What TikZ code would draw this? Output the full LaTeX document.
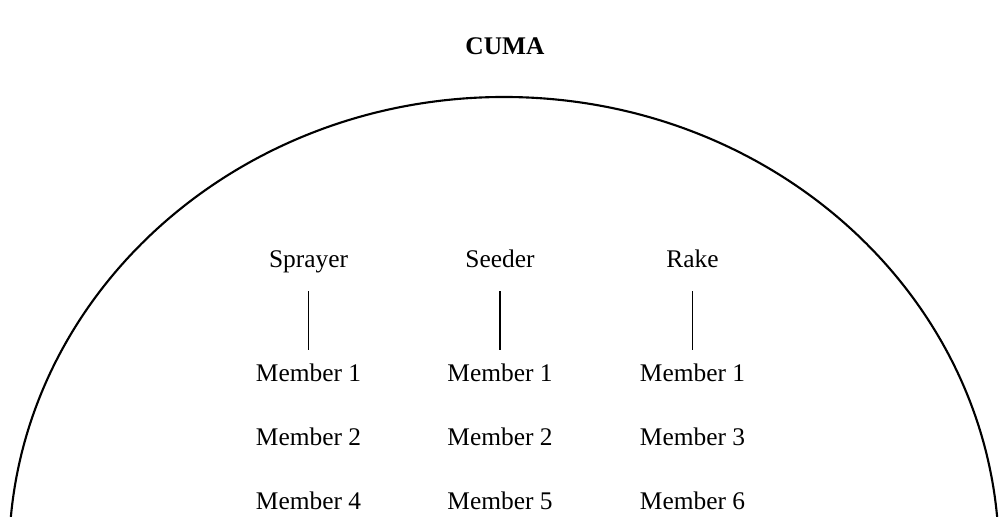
\documentclass[tikz,border=0pt]{standalone}
\usepackage{fontspec}
\setmainfont{Liberation Serif}
\usetikzlibrary{calc}
\definecolor{ArcClr}{rgb}{0,0,0}
\definecolor{LinkClr}{rgb}{0,0,0}

\begin{document}
\begin{tikzpicture}[x=0.8302cm,y=0.8302cm,
  tooltxt/.style={anchor=base,inner sep=0pt,text height=8.5pt,text depth=2.5pt,
    font=\fontsize{12pt}{14pt}\selectfont},
  titletxt/.style={tooltxt,font=\fontsize{12pt}{14pt}\selectfont\bfseries},
  link/.style={line width=0.85pt,color=LinkClr,shorten <=8.4pt,shorten >=6.6pt}]
\useasboundingbox (0,0) rectangle (20.04,10.34);

% the big arc
\begin{scope}
\clip (0,0) rectangle (20.04,10.34);
\draw[line width=1pt,color=ArcClr] (10.08,-0.8) ellipse [x radius=9.9,y radius=9.2];
\end{scope}

\node[titletxt] (cuma) at (10.1,9.24) {CUMA};

% machines
\node[tooltxt] (sprayer) at (6.17,4.98) {Sprayer};
\node[tooltxt] (seeder) at (10.0,4.98) {Seeder};
\node[tooltxt] (rake) at (13.85,4.98) {Rake};

% members
\node[tooltxt] (sp1) at (6.17,2.70) {Member 1};
\node[tooltxt] (sp2) at (6.17,1.42) {Member 2};
\node[tooltxt] (sp4) at (6.17,0.14) {Member 4};

\node[tooltxt] (se1) at (10.0,2.70) {Member 1};
\node[tooltxt] (se2) at (10.0,1.42) {Member 2};
\node[tooltxt] (se5) at (10.0,0.14) {Member 5};

\node[tooltxt] (ra1) at (13.85,2.70) {Member 1};
\node[tooltxt] (ra3) at (13.85,1.42) {Member 3};
\node[tooltxt] (ra6) at (13.85,0.14) {Member 6};

\draw[link] (sprayer.south) -- (sp1.north);
\draw[link] (seeder.south) -- (se1.north);
\draw[link] (rake.south) -- (ra1.north);

\end{tikzpicture}
\end{document}
